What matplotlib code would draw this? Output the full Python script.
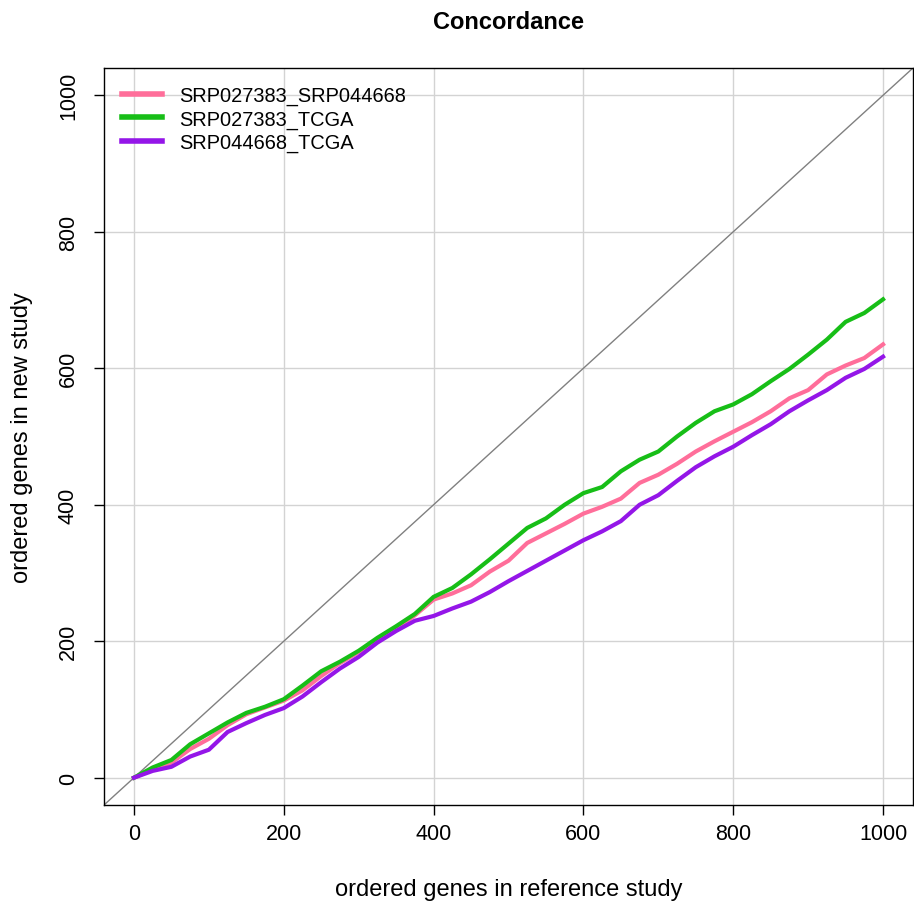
import matplotlib
matplotlib.use("Agg")
import matplotlib.pyplot as plt

plt.rcParams['font.family'] = ['Liberation Sans', 'DejaVu Sans']

# gene rank in reference study (sampled every 25)
ranks = list(range(0, 1001, 25))

srp027383_srp044668 = [0, 12, 22, 42, 57, 77, 93, 103, 113, 128, 149, 168, 184, 203,
                       218, 238, 261, 270, 282, 302, 318, 344, 358, 372, 387, 397, 409,
                       432, 444, 460, 478, 493, 507, 521, 537, 556, 568, 591, 604, 615, 635]
srp027383_tcga = [0, 15, 26, 49, 65, 81, 95, 104, 115, 135, 156, 170, 186, 205,
                  222, 240, 265, 278, 298, 320, 343, 366, 380, 400, 417, 426, 449,
                  466, 478, 500, 520, 537, 547, 562, 581, 599, 620, 642, 668, 681, 701]
srp044668_tcga = [0, 10, 16, 31, 41, 67, 80, 92, 102, 119, 140, 160, 177, 198,
                  215, 230, 237, 248, 258, 272, 288, 303, 318, 333, 348, 361, 376,
                  400, 414, 435, 455, 471, 485, 502, 518, 537, 553, 568, 586, 599, 617]

series_names = ["SRP027383_SRP044668", "SRP027383_TCGA", "SRP044668_TCGA"]
series_vals = [srp027383_srp044668, srp027383_tcga, srp044668_tcga]
colors = ["#FF6E9A", "#17BE17", "#9416E8"]

ticks = [0, 200, 400, 600, 800, 1000]

fig = plt.figure(figsize=(9.14, 9.03), dpi=100)
ax = fig.add_axes([104 / 914, 1 - 806 / 903, (913 - 104) / 914, (806 - 69) / 903])

ax.set_xlim(-40, 1040)
ax.set_ylim(-40, 1040)

for t in ticks:
    ax.axvline(t, color="#D3D3D3", lw=1, zorder=0)
    ax.axhline(t, color="#D3D3D3", lw=1, zorder=0)

ax.plot([-40, 1040], [-40, 1040], color="#808080", lw=1, zorder=1)

for name, vals, c in zip(series_names, series_vals, colors):
    ax.plot(ranks, vals, color=c, lw=3, label=name, zorder=2)

ax.set_xticks(ticks)
ax.set_yticks(ticks)
ax.set_yticklabels([str(t) for t in ticks], rotation=90, va="center")
ax.tick_params(direction="out", length=7, width=1, labelsize=15.5)
ax.tick_params(axis="x", pad=6)
ax.tick_params(axis="y", pad=11)
for s in ax.spines.values():
    s.set_linewidth(1)

ax.set_xlabel("ordered genes in reference study", fontsize=17, va="center")
ax.xaxis.set_label_coords(0.5, (806 - 890) / 737)
ax.set_ylabel("ordered genes in new study", fontsize=17, va="center")
ax.yaxis.set_label_coords((22 - 104) / 809, 0.5)
ax.set_title("Concordance", fontsize=17, fontweight="bold", pad=29)

leg = ax.legend(loc="upper left", bbox_to_anchor=(0.0025, 0.997), frameon=False,
                fontsize=14.4, handlelength=2.0, handletextpad=0.85, labelspacing=0.2,
                borderaxespad=0.4)
for line in leg.get_lines():
    line.set_linewidth(4)

fig.savefig("out.png", dpi=100)
